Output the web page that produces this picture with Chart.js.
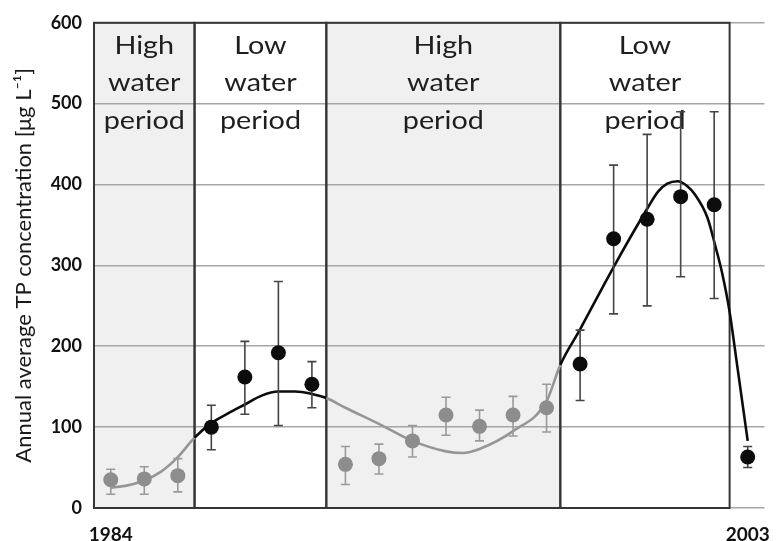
<!DOCTYPE html>
<html>
<head>
<meta charset="utf-8">
<script src="https://cdn.jsdelivr.net/npm/chart.js@4.4.1/dist/chart.umd.min.js"></script>
<style>
html,body{margin:0;padding:0;background:#fff;}
#wrap{width:777px;height:541px;}
</style>
</head>
<body>
<div id="wrap"><canvas id="c" width="777" height="541"></canvas></div>
<script>
// ---- data ----
const years   = [1984,1985,1986,1987,1988,1989,1990,1991,1992,1993,1994,1995,1996,1997,1998,1999,2000,2001,2002,2003];
const tpMean  = [35,36,40,100,162,192,153,54,61,83,115,101,115,124,178,333,357,385,375,63];
const tpLow   = [17,17,20,72,116,102,124,29,42,63,90,83,89,94,133,240,250,286,259,50];
const tpHigh  = [48,51,61,127,206,280,181,76,79,102,137,121,138,153,220,424,462,490,490,76];

// fitted trend curve
const curveYears  = [1984,1984.5,1985,1985.5,1986,1986.5,1987,1987.5,1988,1988.5,1989,1989.5,1990,1990.43,1991,1992,1993,1994,1994.5,1995,1996,1997,1997.41,1998,1999,2000,2000.32,2000.6,2000.91,2001.2,2001.42,2001.8,2002.04,2002.24,2002.45,2002.7,2003];
const curveValues = [25,28,34,45,63,87,105,117,128,139,144,144,141,136,124,104,83,70,68,73,95,132,177,221,298,370,391,401,404,398,388,359,323,290,245,172,83];

// hydrological periods
const regionEdges  = [1983.5, 1986.5, 1990.43, 1997.41, 2002.46];
const regionLabels = [["High","water","period"],["Low","water","period"],["High","water","period"],["Low","water","period"]];
const regionIsHigh = [true,false,true,false];

const xTickYears = [1984, 2003];
const yTitle = "Annual average TP concentration [\u03BCg L\u207B\u00B9]";

// ---- helpers ----
function isHighWater(x){
  for (let i = 0; i < regionIsHigh.length; i++){
    if (x >= regionEdges[i] && x <= regionEdges[i+1]) return regionIsHigh[i];
  }
  return false;
}
const GRAY_PT = '#8d8d8d', BLACK_PT = '#0c0c0c';
const GRAY_BAR = '#9a9a9a', BLACK_BAR = '#454545';
const GRAY_LINE = '#969696', BLACK_LINE = '#0c0c0c';

const pointColors = years.map(y => isHighWater(y) ? GRAY_PT : BLACK_PT);

const periodPlugin = {
  id: 'periodPlugin',
  beforeDraw(chart){
    const {ctx, scales:{x, y}} = chart;
    ctx.save();
    ctx.fillStyle = '#ffffff';
    ctx.fillRect(0, 0, chart.width, chart.height);
    const top = y.getPixelForValue(600), bot = y.getPixelForValue(0);
    ctx.fillStyle = '#f0f0f0';
    for (let i = 0; i < regionIsHigh.length; i++){
      if (!regionIsHigh[i]) continue;
      const x0 = x.getPixelForValue(regionEdges[i]), x1 = x.getPixelForValue(regionEdges[i+1]);
      ctx.fillRect(x0, top, x1 - x0, bot - top);
    }
    ctx.restore();
  },
  beforeDatasetsDraw(chart){
    const {ctx, scales:{x, y}} = chart;
    const top = y.getPixelForValue(600), bot = y.getPixelForValue(0);
    ctx.save();
    ctx.strokeStyle = '#353535';
    ctx.lineWidth = 2;
    for (let i = 0; i < regionIsHigh.length; i++){
      const x0 = x.getPixelForValue(regionEdges[i]), x1 = x.getPixelForValue(regionEdges[i+1]);
      ctx.strokeRect(x0, top, x1 - x0, bot - top);
    }
    ctx.fillStyle = '#1e1e1e';
    ctx.font = '25px Lato';
    ctx.textAlign = 'center';
    ctx.textBaseline = 'alphabetic';
    const offs = [30.7, 67.8, 105.7];
    const sx = 1.15;
    for (let i = 0; i < regionLabels.length; i++){
      const cx = (x.getPixelForValue(regionEdges[i]) + x.getPixelForValue(regionEdges[i+1])) / 2;
      regionLabels[i].forEach((t, k) => {
        ctx.save();
        ctx.translate(cx, top + offs[k]);
        ctx.scale(sx, 1);
        ctx.fillText(t, 0, 0);
        ctx.restore();
      });
    }
    ctx.restore();
  },
  beforeDatasetDraw(chart, args){
    if (args.index !== 1) return;
    const {ctx, scales:{x, y}} = chart;
    ctx.save();
    ctx.lineWidth = 1.6;
    for (let i = 0; i < years.length; i++){
      const px = x.getPixelForValue(years[i]);
      const pl = y.getPixelForValue(tpLow[i]), ph = y.getPixelForValue(tpHigh[i]);
      ctx.strokeStyle = isHighWater(years[i]) ? GRAY_BAR : BLACK_BAR;
      ctx.beginPath();
      ctx.moveTo(px, pl); ctx.lineTo(px, ph);
      ctx.moveTo(px - 4.5, pl); ctx.lineTo(px + 4.5, pl);
      ctx.moveTo(px - 4.5, ph); ctx.lineTo(px + 4.5, ph);
      ctx.stroke();
    }
    ctx.restore();
  }
};

new Chart(document.getElementById('c'), {
  type: 'scatter',
  data: {
    datasets: [
      {
        type: 'line',
        label: 'trend',
        data: curveYears.map((v, i) => ({x: v, y: curveValues[i]})),
        showLine: true,
        pointRadius: 0,
        borderWidth: 2.6,
        borderColor: BLACK_LINE,
        cubicInterpolationMode: 'monotone',
        fill: false,
        order: 2,
        segment: {
          borderColor: ctx => isHighWater((ctx.p0.parsed.x + ctx.p1.parsed.x) / 2) ? GRAY_LINE : BLACK_LINE
        }
      },
      {
        label: 'TP',
        data: years.map((v, i) => ({x: v, y: tpMean[i]})),
        pointRadius: 7.5,
        pointHoverRadius: 7.5,
        backgroundColor: pointColors,
        borderColor: pointColors,
        borderWidth: 0,
        order: 1
      }
    ]
  },
  options: {
    responsive: false,
    animation: false,
    layout: {padding: {top: 16, right: 10, left: 0, bottom: 0}},
    plugins: {legend: {display: false}, tooltip: {enabled: false}},
    scales: {
      x: {
        type: 'linear',
        min: 1983.5,
        max: 2003.5,
        afterBuildTicks: s => { s.ticks = xTickYears.map(v => ({value: v})); },
        afterFit: s => { s.height = 33; },
        ticks: {
          autoSkip: false, maxRotation: 0, padding: 7,
          color: '#111',
          font: {family: 'Lato', weight: 'bold', size: 19},
          callback: v => String(v)
        },
        grid: {display: false},
        border: {display: false}
      },
      y: {
        min: 0,
        max: 600,
        afterFit: s => { s.width = 94; },
        ticks: {
          stepSize: 100, padding: 12,
          color: '#111',
          font: {family: 'Lato', weight: 'bold', size: 18}
        },
        grid: {color: '#a6a6a6', lineWidth: 1.6, drawTicks: false},
        border: {display: false},
        title: {
          display: true,
          text: yTitle,
          color: '#1a1a1a',
          font: {family: 'Lato', size: 22},
          padding: {top: 11, bottom: 0}
        }
      }
    }
  },
  plugins: [periodPlugin]
});
</script>
</body>
</html>
